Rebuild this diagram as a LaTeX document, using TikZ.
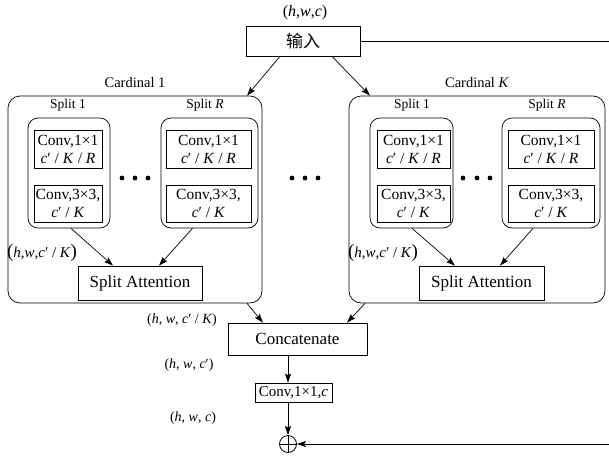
\documentclass[tikz,border=0pt]{standalone}
\usepackage{fontspec}
\setmainfont{Liberation Serif}
\newfontfamily\cjk{Noto Sans CJK SC}
\usetikzlibrary{arrows.meta}

% italic variable names
\newcommand{\vv}[1]{\textit{#1}}
\newcommand{\fs}[1]{\fontsize{#1}{#1}\selectfont}
\newcommand{\bigpar}[1]{{\fontsize{19}{19}\selectfont #1}}

\begin{document}
\begin{tikzpicture}[x=1pt,y=-1pt,
  box/.style={draw, line width=0.7pt, inner sep=1pt, align=center},
  convbox/.style={box, line width=0.9pt, minimum height=37pt, font=\fontsize{15.5}{18}\selectfont},
  group/.style={draw, line width=0.7pt, rounded corners=12pt, inner sep=0pt},
  splitgrp/.style={draw, line width=0.7pt, rounded corners=10pt, inner sep=0pt, minimum height=110pt},
  lbl/.style={inner sep=0pt},
  arr/.style={-{Stealth[length=9pt,width=6pt,inset=1.5pt]}, line width=0.7pt},
  ln/.style={line width=0.7pt}
]
\useasboundingbox (0,0) rectangle (609,455);

% input
\node[lbl, font=\fs{16}] (shape0) at (305,13) {(\vv{h},\vv{w},\vv{c})};
\node[box, minimum width=114pt, minimum height=30pt, font=\fs{17}] (in) at (303,41) {\cjk 输入};

% cardinal groups
\node[group, minimum width=254pt, minimum height=207pt] (c1) at (135,199.5) {};
\node[group, minimum width=256pt, minimum height=207pt] (cK) at (477,199.5) {};
\node[lbl, font=\fs{14.5}] (c1lbl) at (135,83) {Cardinal 1};
\node[lbl, font=\fs{14.5}] (cKlbl) at (477,83) {Cardinal \vv{K}};

% split labels
\node[lbl, font=\fs{13.5}] (l11) at (68,105) {Split 1};
\node[lbl, font=\fs{13.5}] (l1R) at (205,105) {Split \vv{R}};
\node[lbl, font=\fs{13.5}] (lK1) at (412,105) {Split 1};
\node[lbl, font=\fs{13.5}] (lKR) at (547,105) {Split \vv{R}};

% split groups
\node[splitgrp, minimum width=82pt] (s11) at (69,173) {};
\node[splitgrp, minimum width=97pt] (s1R) at (209.5,173) {};
\node[splitgrp, minimum width=83pt] (sK1) at (411.5,173) {};
\node[splitgrp, minimum width=98pt] (sKR) at (551,173) {};

% convolution boxes
\node[convbox, minimum width=68pt, minimum height=38pt] (a11) at (68,149) {Conv,1×1\\ \vv{c}′ / \vv{K} / \vv{R}};
\node[convbox, minimum width=68pt] (b11) at (68,203.5) {Conv,3×3,\\ \vv{c}′ / \vv{K}};
\node[convbox, minimum width=85pt, minimum height=38pt] (a1R) at (208.5,149) {Conv,1×1\\ \vv{c}′ / \vv{K} / \vv{R}};
\node[convbox, minimum width=85pt] (b1R) at (208.5,203.5) {Conv,3×3,\\ \vv{c}′ / \vv{K}};
\node[convbox, minimum width=73pt, minimum height=38pt] (aK1) at (413.5,149) {Conv,1×1\\ \vv{c}′ / \vv{K} / \vv{R}};
\node[convbox, minimum width=73pt] (bK1) at (413.5,203.5) {Conv,3×3,\\ \vv{c}′ / \vv{K}};
\node[convbox, minimum width=86pt, minimum height=38pt] (aKR) at (551,149) {Conv,1×1\\ \vv{c}′ / \vv{K} / \vv{R}};
\node[convbox, minimum width=86pt] (bKR) at (551,203.5) {Conv,3×3,\\ \vv{c}′ / \vv{K}};

% ellipses
\foreach \x in {122,135,148,292,305,318,463,477,490}
  \fill (\x,178) circle (2.4pt);

% split attention
\node[box, minimum width=124pt, minimum height=34pt, font=\fs{17}] (sa1) at (140,283) {Split Attention};
\node[box, minimum width=125pt, minimum height=34pt, font=\fs{17}] (saK) at (481.5,283) {Split Attention};
\node[lbl, font=\fs{15}] (d1) at (42,253) {\bigpar{(}\vv{h},\vv{w},\vv{c}′ / \vv{K}\bigpar{)}};
\node[lbl, font=\fs{15}] (dK) at (383,253) {\bigpar{(}\vv{h},\vv{w},\vv{c}′ / \vv{K}\bigpar{)}};

% merge
\node[box, minimum width=139pt, minimum height=32pt, font=\fs{17}] (cat) at (297.5,339) {Concatenate};
\node[box, minimum width=77pt, minimum height=19pt, font=\fs{15}] (proj) at (293.5,392.5) {Conv,1×1,\vv{c}};
\node[draw, circle, line width=0.8pt, minimum size=17pt, inner sep=0pt] (plus) at (288,444) {};
\draw[ln] (plus.north) -- (plus.south) (plus.west) -- (plus.east);

\node[lbl, font=\fs{14}] (d2) at (182,320) {(\vv{h}, \vv{w}, \vv{c}′ / \vv{K})};
\node[lbl, font=\fs{14}] (d3) at (189,365) {(\vv{h}, \vv{w}, \vv{c}′)};
\node[lbl, font=\fs{14}] (d4) at (193,418) {(\vv{h}, \vv{w}, \vv{c})};

% connectors
\draw[arr] ([xshift=-23pt]in.south) -- ([xshift=112pt]c1.north);
\draw[arr] ([xshift=29pt]in.south) -- ([xshift=-107pt]cK.north);

\draw[arr] ([xshift=2pt]s11.south) -- ([xshift=-27pt]sa1.north);
\draw[arr] ([xshift=-17pt]s1R.south) -- ([xshift=19pt]sa1.north);
\draw[arr] ([xshift=0.5pt]sK1.south) -- ([xshift=-26.5pt]saK.north);
\draw[arr] ([xshift=-18pt]sKR.south) -- ([xshift=18.5pt]saK.north);

\draw[arr] ([xshift=112pt]c1.south) -- ([xshift=-34.5pt]cat.north);
\draw[arr] ([xshift=-112pt]cK.south) -- ([xshift=49.5pt]cat.north);

\draw[arr] (cat.south -| plus) -- (proj.north -| plus);
\draw[arr] (proj.south -| plus) -- (plus.north);

% residual path
\coordinate (rtop) at (609,41);
\coordinate (rbot) at (609,444);
\draw[ln] (in.east) -- (rtop);
\draw[arr] (rbot) -- (plus.east);
\end{tikzpicture}
\end{document}
